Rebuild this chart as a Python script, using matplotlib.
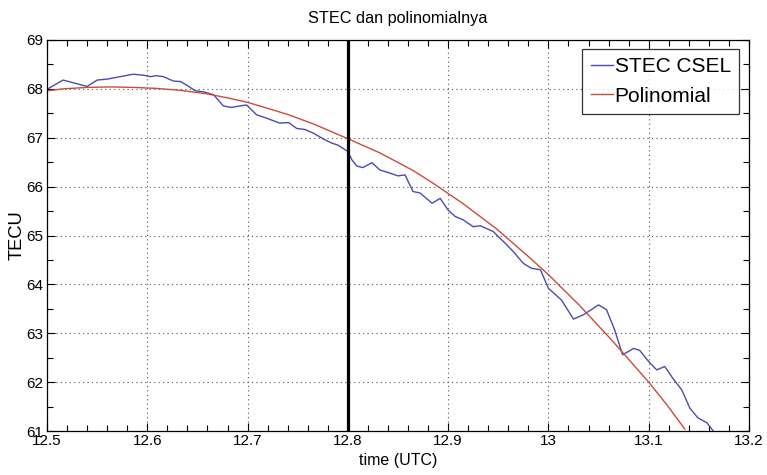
import matplotlib
matplotlib.use("Agg")
from matplotlib import pyplot as plt
from matplotlib.ticker import MultipleLocator
import numpy as np

plt.rcParams['font.family'] = ['Liberation Sans', 'DejaVu Sans']

# STEC at station CSEL (time in hours UTC, TEC units)
stec_time = [12.500, 12.516, 12.540, 12.550, 12.560, 12.573, 12.586, 12.596, 12.603,
             12.609, 12.616, 12.626, 12.633, 12.639, 12.648, 12.656, 12.666, 12.676,
             12.684, 12.692, 12.699, 12.709, 12.719, 12.732, 12.741, 12.749, 12.757,
             12.766, 12.776, 12.784, 12.790, 12.800, 12.804, 12.809, 12.815, 12.824,
             12.832, 12.840, 12.850, 12.857, 12.865, 12.872, 12.884, 12.892, 12.900,
             12.907, 12.915, 12.925, 12.932, 12.945, 12.957, 12.965, 12.975, 12.983,
             12.992, 13.000, 13.013, 13.025, 13.035, 13.050, 13.058, 13.066, 13.074,
             13.085, 13.091, 13.100, 13.108, 13.116, 13.124, 13.133, 13.141, 13.149,
             13.158, 13.164]
stec_val = [67.99, 68.18, 68.05, 68.18, 68.20, 68.25, 68.30, 68.28, 68.25,
            68.27, 68.25, 68.16, 68.15, 68.08, 67.96, 67.94, 67.88, 67.65,
            67.62, 67.65, 67.67, 67.47, 67.40, 67.30, 67.31, 67.19, 67.17,
            67.09, 66.97, 66.89, 66.85, 66.72, 66.55, 66.42, 66.39, 66.49,
            66.34, 66.29, 66.22, 66.24, 65.90, 65.87, 65.66, 65.76, 65.52,
            65.39, 65.32, 65.18, 65.20, 65.08, 64.84, 64.67, 64.43, 64.33,
            64.30, 63.92, 63.68, 63.29, 63.38, 63.58, 63.48, 63.07, 62.56,
            62.69, 62.65, 62.42, 62.25, 62.32, 62.08, 61.84, 61.47, 61.27,
            61.17, 61.01]

# fitted polynomial
poly_time = [12.500, 12.516, 12.540, 12.563, 12.586, 12.609, 12.633, 12.659, 12.679,
             12.699, 12.722, 12.741, 12.766, 12.800, 12.832, 12.865, 12.885, 12.915,
             12.948, 12.980, 13.000, 13.031, 13.064, 13.100, 13.118, 13.136]
poly_val = [67.96, 68.00, 68.03, 68.04, 68.03, 68.01, 67.97, 67.90, 67.82,
            67.73, 67.59, 67.47, 67.28, 66.98, 66.69, 66.33, 66.07, 65.65,
            65.14, 64.57, 64.20, 63.57, 62.84, 62.00, 61.54, 61.04]

t_mark = 12.8

fig = plt.figure(figsize=(7.67, 4.75), dpi=100)
ax = fig.add_axes([0.0613, 0.0926, 0.9152, 0.8232])

ax.plot(stec_time, stec_val, color='#4b4bae', lw=1.0, label='STEC CSEL')
ax.plot(poly_time, poly_val, color='#cc4a3c', lw=1.0, label='Polinomial')
ax.axvline(t_mark, color='black', lw=2.3)

ax.set_xlim(12.5, 13.2)
ax.set_ylim(61, 69)
xt = [12.5, 12.6, 12.7, 12.8, 12.9, 13.0, 13.1, 13.2]
ax.set_xticks(xt)
ax.set_xticklabels(['12.5', '12.6', '12.7', '12.8', '12.9', '13', '13.1', '13.2'])
ax.set_yticks(np.arange(61, 70))
ax.xaxis.set_minor_locator(MultipleLocator(0.02))
ax.yaxis.set_minor_locator(MultipleLocator(0.5))
ax.tick_params(which='both', direction='in', top=True, right=True, labelsize=11)
ax.tick_params(axis='x', pad=2)
ax.tick_params(axis='y', pad=3)
ax.tick_params(which='major', length=6, width=0.8)
ax.tick_params(which='minor', length=4, width=0.8)
ax.grid(True, which='major', color='#555555', ls=(0, (1, 3)), lw=0.8)
for sp in ax.spines.values():
    sp.set_linewidth(0.9)

ax.set_title('STEC dan polinomialnya', fontsize=11.7, pad=12)
ax.set_xlabel('time (UTC)', fontsize=11.5, labelpad=4)
ax.set_ylabel('TECU', fontsize=13.2, labelpad=0.5)

leg = ax.legend(loc='upper right', bbox_to_anchor=(0.986, 0.977), fontsize=15,
                frameon=True, fancybox=False, handlelength=1.05, handletextpad=0.1,
                borderpad=0.4, labelspacing=0.5, borderaxespad=0.0)
leg.get_frame().set_edgecolor('black')
leg.get_frame().set_linewidth(0.9)

fig.savefig('out.png', dpi=100)
